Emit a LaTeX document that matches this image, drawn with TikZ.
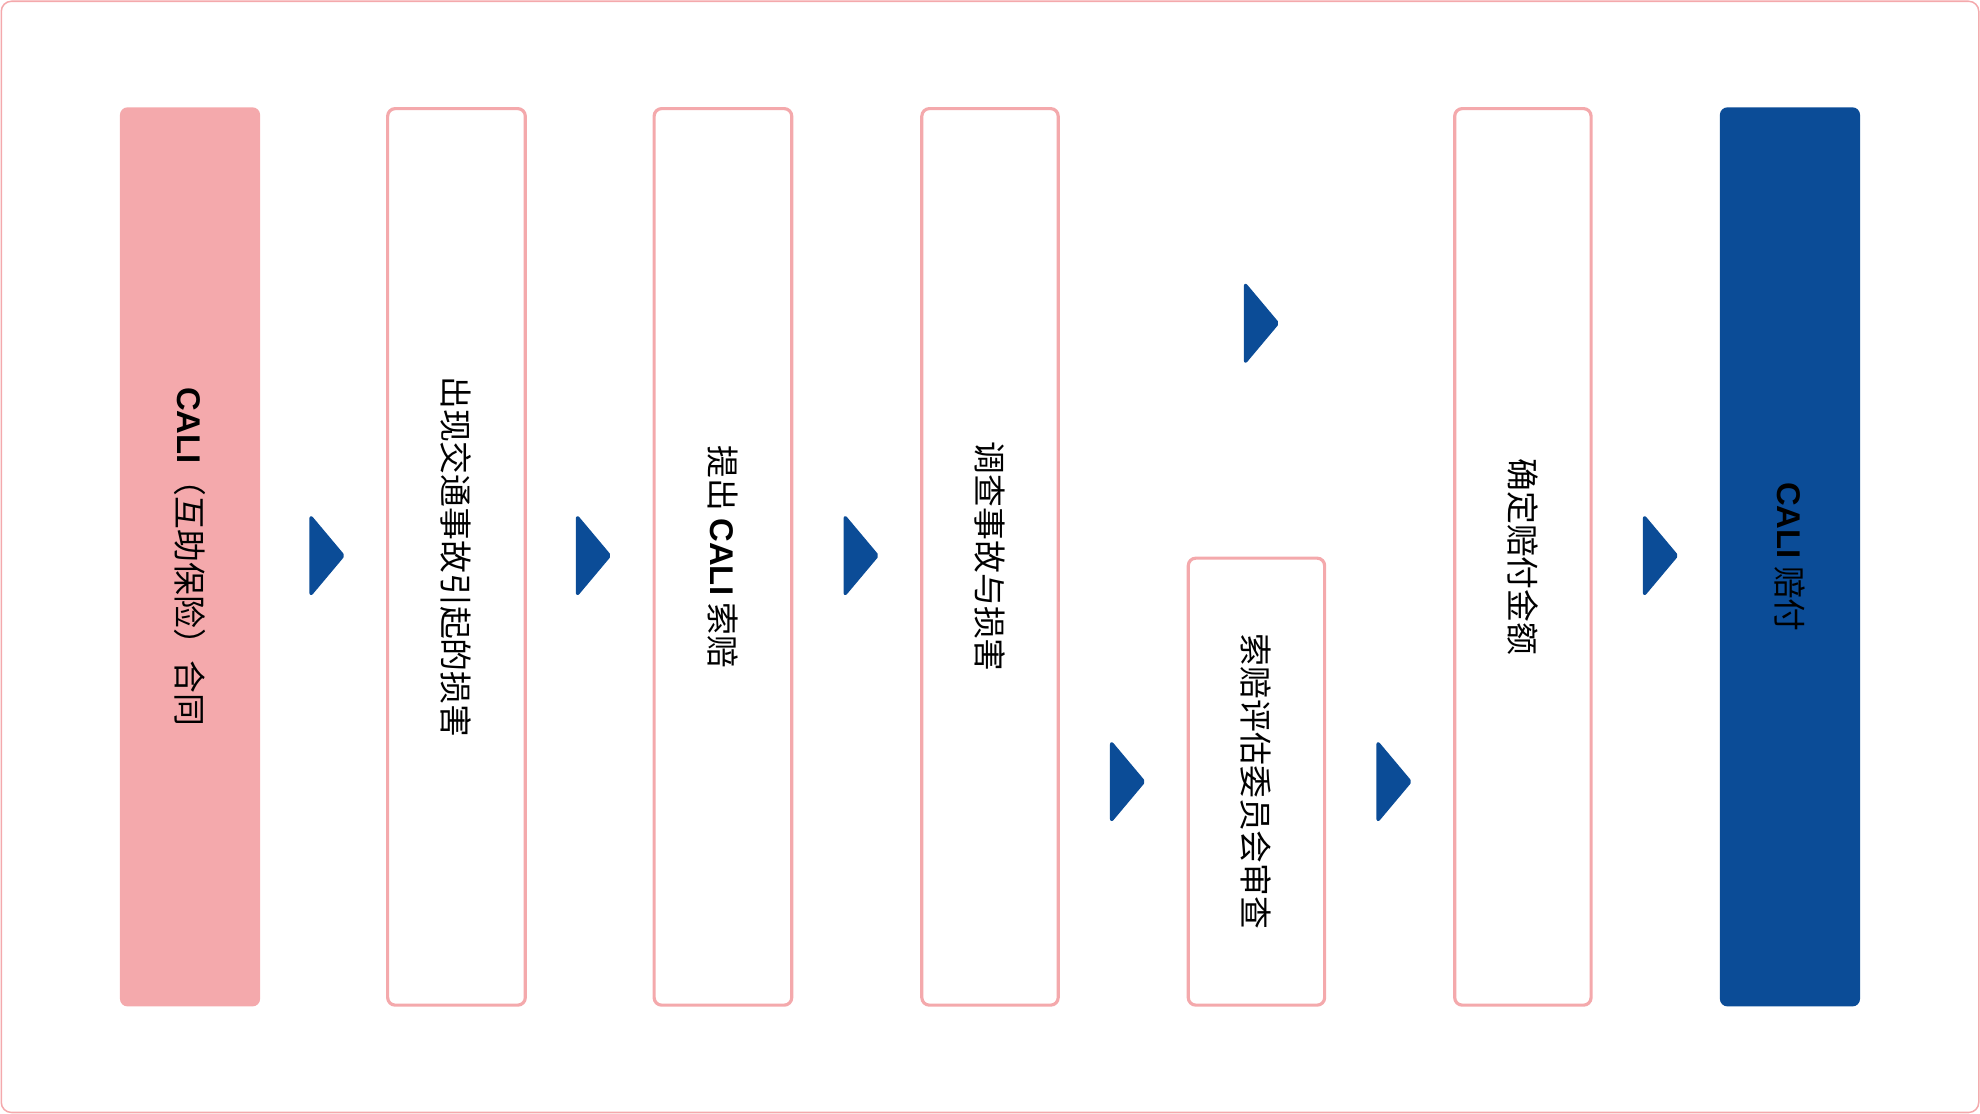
\documentclass[tikz,border=0pt]{standalone}
\usepackage{fontspec}
\setmainfont{Noto Sans CJK SC}
\newfontfamily\latf{Liberation Sans}
\definecolor{pk}{HTML}{F4A9AC}
\definecolor{bl}{HTML}{0B4C97}
\newcommand{\cali}{{\latf\bfseries CALI}}
\begin{document}
\begin{tikzpicture}[x=1pt,y=-1pt,
  stepbox/.style={draw=pk,line width=2.5pt,rounded corners=6pt,fill=white},
  lbl/.style={rotate=-90,font=\fontsize{26}{30}\selectfont,text=black,inner sep=0pt},
  arr/.style={fill=bl,draw=bl,line width=2pt,line join=round,rounded corners=1.5pt}]
\useasboundingbox (0,0) rectangle (1568,882);
\draw[pk,line width=1.2pt,rounded corners=8pt] (1,1) rectangle (1567,881);
\fill[pk,rounded corners=6pt] (95,85) rectangle (206,797);
\coordinate (b1) at (150.5,441);
\draw[stepbox] (307,86) rectangle (416,796); \coordinate (b2) at (361.5,441);
\draw[stepbox] (518,86) rectangle (627,796); \coordinate (b3) at (572.5,441);
\draw[stepbox] (730,86) rectangle (838,796); \coordinate (b4) at (784,441);
\draw[stepbox] (941,442) rectangle (1049,796); \coordinate (b5) at (995,619);
\draw[stepbox] (1152,86) rectangle (1260,796); \coordinate (b6) at (1206,441);
\fill[bl,rounded corners=6pt] (1362,85) rectangle (1473,797); \coordinate (b7) at (1417.5,441);
\node[lbl] (t1) at (b1) {\cali（互助保险）合同};
\node[lbl] (t2) at (b2) {出现交通事故引起的损害};
\node[lbl] (t3) at (b3) {提出 \cali{} 索赔};
\node[lbl] (t4) at (b4) {调查事故与损害};
\node[lbl] (t5) at (b5) {索赔评估委员会审查};
\node[lbl] (t6) at (b6) {确定赔付金额};
\node[lbl] (t7) at (b7) {\cali{} 赔付};
\foreach \x/\y in {246/440,457/440,669/440,986/256,880/619,1091/619,1302/440}{
  \draw[arr] (\x,\y-31) -- (\x+26,\y) -- (\x,\y+31) -- cycle;
}
\end{tikzpicture}
\end{document}
